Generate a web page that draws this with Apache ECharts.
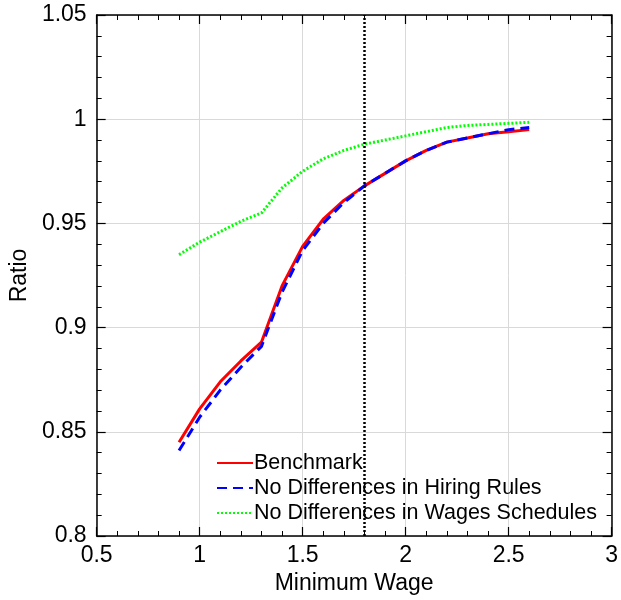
<!DOCTYPE html>
<html>
<head>
<meta charset="utf-8">
<script src="https://cdn.jsdelivr.net/npm/echarts@6/dist/echarts.min.js"></script>
<style>
  html, body { margin: 0; padding: 0; background: #fff; }
</style>
</head>
<body>
<div id="myChart" style="width: 621px; height: 600px"></div>
<script>
// minimum wage grid
const minWage = [0.9, 1.0, 1.1, 1.2, 1.3, 1.4, 1.5, 1.6, 1.7, 1.8, 1.9, 2.0, 2.1, 2.2, 2.3, 2.4, 2.5, 2.6];
const benchmark = [0.845, 0.861, 0.874, 0.884, 0.893, 0.920, 0.939, 0.952, 0.961, 0.968, 0.974, 0.980, 0.985, 0.989, 0.991, 0.993, 0.994, 0.995];
const noHiring = [0.841, 0.857, 0.870, 0.881, 0.891, 0.917, 0.937, 0.950, 0.960, 0.968, 0.974, 0.980, 0.985, 0.989, 0.991, 0.993, 0.995, 0.996];
const noWages = [0.935, 0.941, 0.946, 0.951, 0.955, 0.967, 0.975, 0.981, 0.985, 0.988, 0.990, 0.992, 0.994, 0.996, 0.997, 0.9975, 0.998, 0.9985];
const cutoff = 1.8;

const seriesNames = ['Benchmark', 'No Differences in Hiring Rules', 'No Differences in Wages Schedules'];

const pairs = (ys) => minWage.map((x, i) => [x, ys[i]]);
const font = 'Liberation Sans, Arial, sans-serif';

const myChartDrawer = echarts.init(document.getElementById('myChart'));
const frameAxis = {
  axisLine: { show: true, lineStyle: { color: '#000', width: 1.5 } },
  axisTick: { show: true, inside: true, length: 9, lineStyle: { color: '#000', width: 1.2 } },
  minorTick: { show: true, splitNumber: 5, length: 5, lineStyle: { color: '#000', width: 1 } },
};
const option = {
  animation: false,
  textStyle: { fontFamily: font },
  grid: { left: 94, right: 9, top: 15, bottom: 64 },
  legend: {
    data: seriesNames,
    orient: 'vertical',
    left: 211,
    top: 447,
    itemWidth: 36,
    itemHeight: 12,
    itemGap: 3,
    itemStyle: { opacity: 0 },
    textStyle: { fontSize: 21.5, color: '#000', fontFamily: font, padding: [0, 0, 0, -4] },
  },
  xAxis: [
    {
      type: 'value',
      min: 0.5,
      max: 3,
      interval: 0.5,
      name: 'Minimum Wage',
      nameLocation: 'middle',
      nameGap: 35,
      nameTextStyle: { fontSize: 23, color: '#000' },
      axisLabel: { fontSize: 23, color: '#000', margin: 8 },
      splitLine: { show: true, lineStyle: { color: '#d9d9d9', width: 1 } },
      ...frameAxis,
    },
    {
      type: 'value',
      position: 'top',
      min: 0.5,
      max: 3,
      interval: 0.5,
      axisLabel: { show: false },
      splitLine: { show: false },
      ...frameAxis,
    },
  ],
  yAxis: [
    {
      type: 'value',
      min: 0.8,
      max: 1.05,
      interval: 0.05,
      name: 'Ratio',
      nameLocation: 'middle',
      nameGap: 60,
      nameTextStyle: { fontSize: 23, color: '#000' },
      axisLabel: { fontSize: 23, color: '#000', margin: 10 },
      splitLine: { show: true, lineStyle: { color: '#d9d9d9', width: 1 } },
      ...frameAxis,
    },
    {
      type: 'value',
      position: 'right',
      min: 0.8,
      max: 1.05,
      interval: 0.05,
      axisLabel: { show: false },
      splitLine: { show: false },
      ...frameAxis,
    },
  ],
  series: [
    {
      name: seriesNames[0],
      type: 'line',
      data: pairs(benchmark),
      symbol: 'none',
      z: 3,
      lineStyle: { color: '#ff0000', width: 3 },
      itemStyle: { color: '#ff0000' },
      markLine: {
        silent: true,
        symbol: 'none',
        label: { show: false },
        lineStyle: { color: '#000', type: [2, 2], width: 2.5 },
        data: [{ xAxis: cutoff }],
      },
    },
    {
      name: seriesNames[1],
      type: 'line',
      data: pairs(noHiring),
      symbol: 'none',
      z: 4,
      lineStyle: { color: '#0000ff', width: 3, type: [10, 6] },
      itemStyle: { color: '#0000ff' },
    },
    {
      name: seriesNames[2],
      type: 'line',
      data: pairs(noWages),
      symbol: 'none',
      z: 3,
      lineStyle: { color: '#00ff00', width: 3, type: [2, 2] },
      itemStyle: { color: '#00ff00' },
    },
  ],
};
myChartDrawer.setOption(option);
</script>
</body>
</html>
